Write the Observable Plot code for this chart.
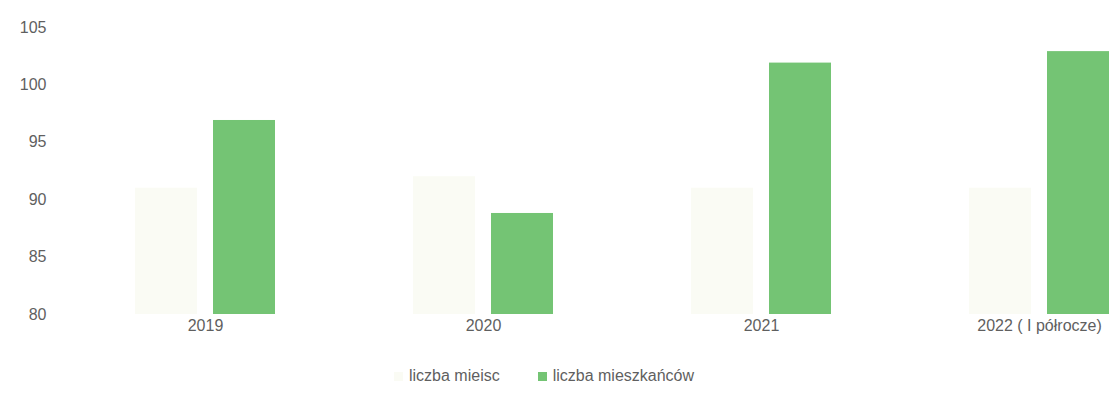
<!DOCTYPE html>
<html>
<head>
<meta charset="utf-8">
<script src="https://cdn.jsdelivr.net/npm/d3@7"></script>
<script src="https://cdn.jsdelivr.net/npm/@observablehq/plot@0.6"></script>
<style>
  html, body { margin: 0; padding: 0; background: #fff; overflow: hidden; }
  #chart { position: relative; width: 1119px; height: 405px; }
  .legend { position: absolute; left: 394px; top: 367px; display: flex; align-items: center;
            font-family: "Liberation Sans", "DejaVu Sans", sans-serif; font-size: 16px; color: #5f5f5f; }
  .legend .item { display: flex; align-items: center; margin-right: 38px; }
  .legend .sw { width: 9px; height: 9px; margin-right: 6px; }
</style>
</head>
<body>
<div id="chart"></div>
<script>
const years = ["2019", "2020", "2021", "2022 ( I półrocze)"];
const seriesNames = ["liczba mieisc", "liczba mieszkańców"];
const miejsc = [91, 92, 91, 91];
const mieszkancow = [96.9, 88.8, 101.9, 102.9];
const seriesColors = ["#fafbf4", "#74c474"];
const yTicks = [80, 85, 90, 95, 100, 105];

const data = [];
years.forEach((y, i) => {
  data.push({year: y, series: seriesNames[0], value: miejsc[i]});
  data.push({year: y, series: seriesNames[1], value: mieszkancow[i]});
});

const chart = Plot.plot({
  width: 1119,
  height: 344,
  marginTop: 27,
  marginBottom: 30,
  marginLeft: 64,
  marginRight: 0,
  style: {fontFamily: "Liberation Sans, DejaVu Sans, sans-serif", fontSize: "16px", color: "#5f5f5f", background: "white"},
  fx: {domain: years, range: [64, 1179], padding: 0, label: null},
  x: {domain: seriesNames, paddingInner: 0.2, paddingOuter: 0.88, axis: null},
  y: {domain: [80, 105], ticks: yTicks, label: null},
  color: {domain: seriesNames, range: seriesColors},
  marks: [
    Plot.axisY({ticks: yTicks, tickSize: 0, tickPadding: 20, label: null, fontSize: 16}),
    Plot.axisFx({anchor: "bottom", tickSize: 0, tickPadding: 5, label: null, fontSize: 16}),
    Plot.rectY(data, {fx: "year", x: "series", y1: 80, y2: "value", fill: "series"})
  ]
});
document.getElementById("chart").appendChild(chart);

const legend = document.createElement("div");
legend.className = "legend";
seriesNames.forEach((s, i) => {
  const item = document.createElement("div");
  item.className = "item";
  const sw = document.createElement("span");
  sw.className = "sw";
  sw.style.background = seriesColors[i];
  const t = document.createElement("span");
  t.textContent = s;
  item.appendChild(sw);
  item.appendChild(t);
  legend.appendChild(item);
});
document.getElementById("chart").appendChild(legend);
</script>
</body>
</html>
